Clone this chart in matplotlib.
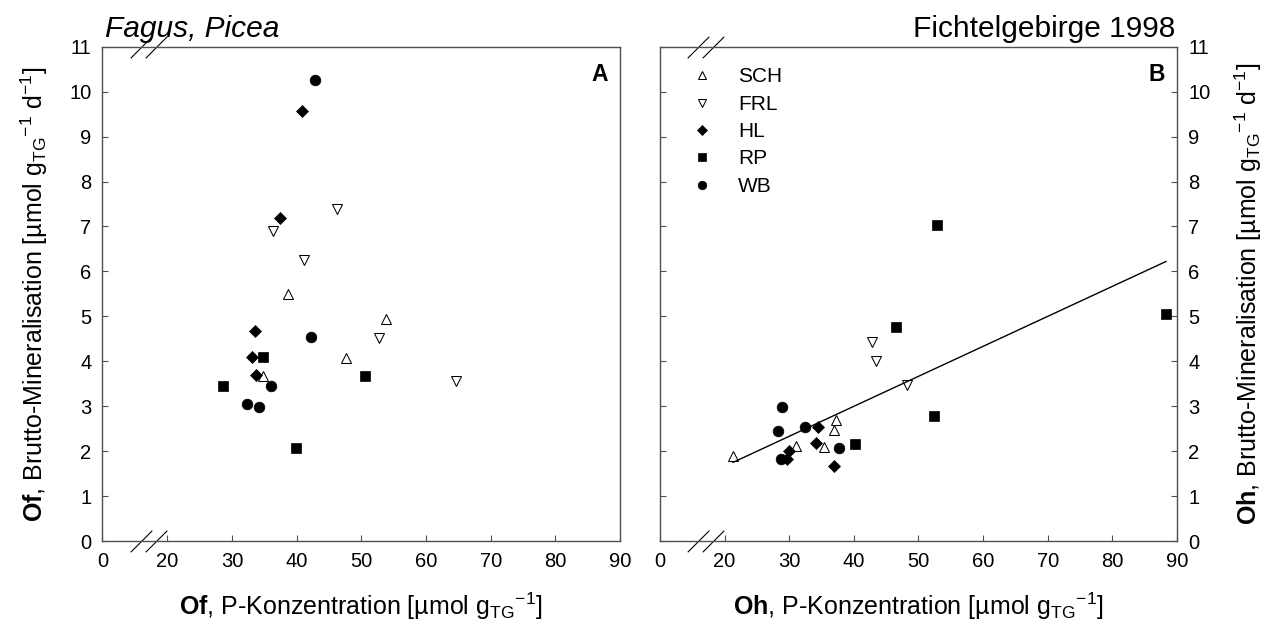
import numpy as np
import matplotlib
matplotlib.use("Agg")
import matplotlib.pyplot as plt
import matplotlib.transforms as mtransforms

plt.rcParams['font.family'] = ['Liberation Sans', 'DejaVu Sans']
plt.rcParams['mathtext.fontset'] = 'custom'
plt.rcParams['mathtext.rm'] = 'Liberation Sans'
plt.rcParams['mathtext.it'] = 'Liberation Sans:italic'
plt.rcParams['mathtext.bf'] = 'Liberation Sans:bold'

# site codes
sites = ['SCH', 'FRL', 'HL', 'RP', 'WB']

# Of horizon (panel A): P concentration vs gross mineralisation
of_x = {
    'SCH': [38.7, 53.75, 47.6, 34.8],
    'FRL': [46.3, 36.3, 41.2, 52.7, 64.7],
    'HL':  [40.8, 37.4, 33.5, 33.1, 33.8],
    'RP':  [34.8, 50.5, 28.6, 39.9],
    'WB':  [42.8, 42.2, 36.0, 32.4, 34.15],
}
of_y = {
    'SCH': [5.50, 4.93, 4.07, 3.68],
    'FRL': [7.38, 6.91, 6.26, 4.52, 3.56],
    'HL':  [9.56, 7.19, 4.68, 4.10, 3.70],
    'RP':  [4.10, 3.67, 3.44, 2.06],
    'WB':  [10.27, 4.54, 3.44, 3.05, 2.98],
}

# Oh horizon (panel B)
oh_x = {
    'SCH': [37.3, 37.0, 35.4, 31.0, 21.25],
    'FRL': [42.8, 43.4, 48.2],
    'HL':  [34.4, 34.1, 30.0, 29.6, 37.0],
    'RP':  [46.6, 52.4, 40.2, 52.8, 88.3],
    'WB':  [28.9, 28.2, 32.4, 37.7, 28.7],
}
oh_y = {
    'SCH': [2.69, 2.47, 2.10, 2.11, 1.89],
    'FRL': [4.42, 4.01, 3.47],
    'HL':  [2.54, 2.18, 2.00, 1.82, 1.67],
    'RP':  [4.77, 2.79, 2.16, 7.03, 5.06],
    'WB':  [2.98, 2.45, 2.54, 2.06, 1.82],
}

# regression line drawn in panel B
fit_x = [21.3, 88.3]
fit_y = [1.75, 6.22]

xticks = [10, 20, 30, 40, 50, 60, 70, 80, 90]
xtick_labels = ['0', '20', '30', '40', '50', '60', '70', '80', '90']
yticks = list(range(0, 12))
break_x = [15.9, 18.2]

styles = {
    'SCH': dict(marker='^', ms=7.8, mfc='white', mec='black', mew=0.75),
    'FRL': dict(marker='v', ms=7.8, mfc='white', mec='black', mew=0.75),
    'HL':  dict(marker='D', ms=6.5, mfc='black', mec='black', mew=0.5),
    'RP':  dict(marker='s', ms=7.0, mfc='black', mec='black', mew=0.5),
    'WB':  dict(marker='o', ms=7.7, mfc='black', mec='black', mew=0.5),
}

spine_col = '#505050'


def break_marks(ax):
    tr = mtransforms.blended_transform_factory(ax.transData, ax.transAxes)
    for y in (0, 1):
        ax.plot(break_x, [y, y], ls='none', marker=[(-1, -1), (1, 1)],
                ms=15.5, mew=0.8, color='black', transform=tr, clip_on=False)


def setup(ax):
    ax.set_xlim(10, 90)
    ax.set_ylim(0, 11)
    ax.set_xticks(xticks)
    ax.set_xticklabels(xtick_labels)
    ax.set_yticks(yticks)
    ax.tick_params(direction='in', length=4.5, width=0.8, labelsize=14.5,
                   color=spine_col, pad=8)
    for sp in ax.spines.values():
        sp.set_color(spine_col)
        sp.set_linewidth(1.0)
    break_marks(ax)


fig = plt.figure(figsize=(12.78, 6.33), dpi=100)
axA = fig.add_axes([0.0802, 0.1453, 0.4050, 0.7809])
axB = fig.add_axes([0.5164, 0.1453, 0.4045, 0.7809])

for s in sites:
    axA.plot(of_x[s], of_y[s], ls='none', clip_on=False, **styles[s])
    axB.plot(oh_x[s], oh_y[s], ls='none', clip_on=False, label=s, **styles[s])
axB.plot(fit_x, fit_y, color='black', lw=1.0)

setup(axA)
setup(axB)
axB.tick_params(axis='y', left=True, right=True, labelleft=False, labelright=True)

lab = 18
axA.set_xlabel(r'$\mathbf{Of}$, P-Konzentration [µmol g$_{\mathrm{TG}}$$^{-1}$]',
               fontsize=lab, labelpad=14)
axB.set_xlabel(r'$\mathbf{Oh}$, P-Konzentration [µmol g$_{\mathrm{TG}}$$^{-1}$]',
               fontsize=lab, labelpad=14)
axA.set_ylabel(r'$\mathbf{Of}$, Brutto-Mineralisation [µmol g$_{\mathrm{TG}}$$^{-1}$ d$^{-1}$]',
               fontsize=lab, labelpad=14)
axB.yaxis.set_label_position('right')
axB.set_ylabel(r'$\mathbf{Oh}$, Brutto-Mineralisation [µmol g$_{\mathrm{TG}}$$^{-1}$ d$^{-1}$]',
               fontsize=lab, labelpad=16, rotation=90)

axA.text(0.004, 1.008, 'Fagus, Picea', style='italic', fontsize=21.5,
         ha='left', va='bottom', transform=axA.transAxes)
axB.text(0.996, 1.008, 'Fichtelgebirge 1998', fontsize=21.5,
         ha='right', va='bottom', transform=axB.transAxes)

axA.text(0.961, 0.943, 'A', fontsize=16.5, fontweight='bold', ha='center',
         va='center', transform=axA.transAxes)
axB.text(0.961, 0.943, 'B', fontsize=16.5, fontweight='bold', ha='center',
         va='center', transform=axB.transAxes)

leg = axB.legend(loc='upper left', bbox_to_anchor=(0.0605, 0.958), frameon=False,
                 fontsize=15, markerscale=0.8, handlelength=1.0,
                 handletextpad=1.24, labelspacing=0.4, borderaxespad=0.0,
                 borderpad=0.0)

fig.savefig('out.png', dpi=100)
